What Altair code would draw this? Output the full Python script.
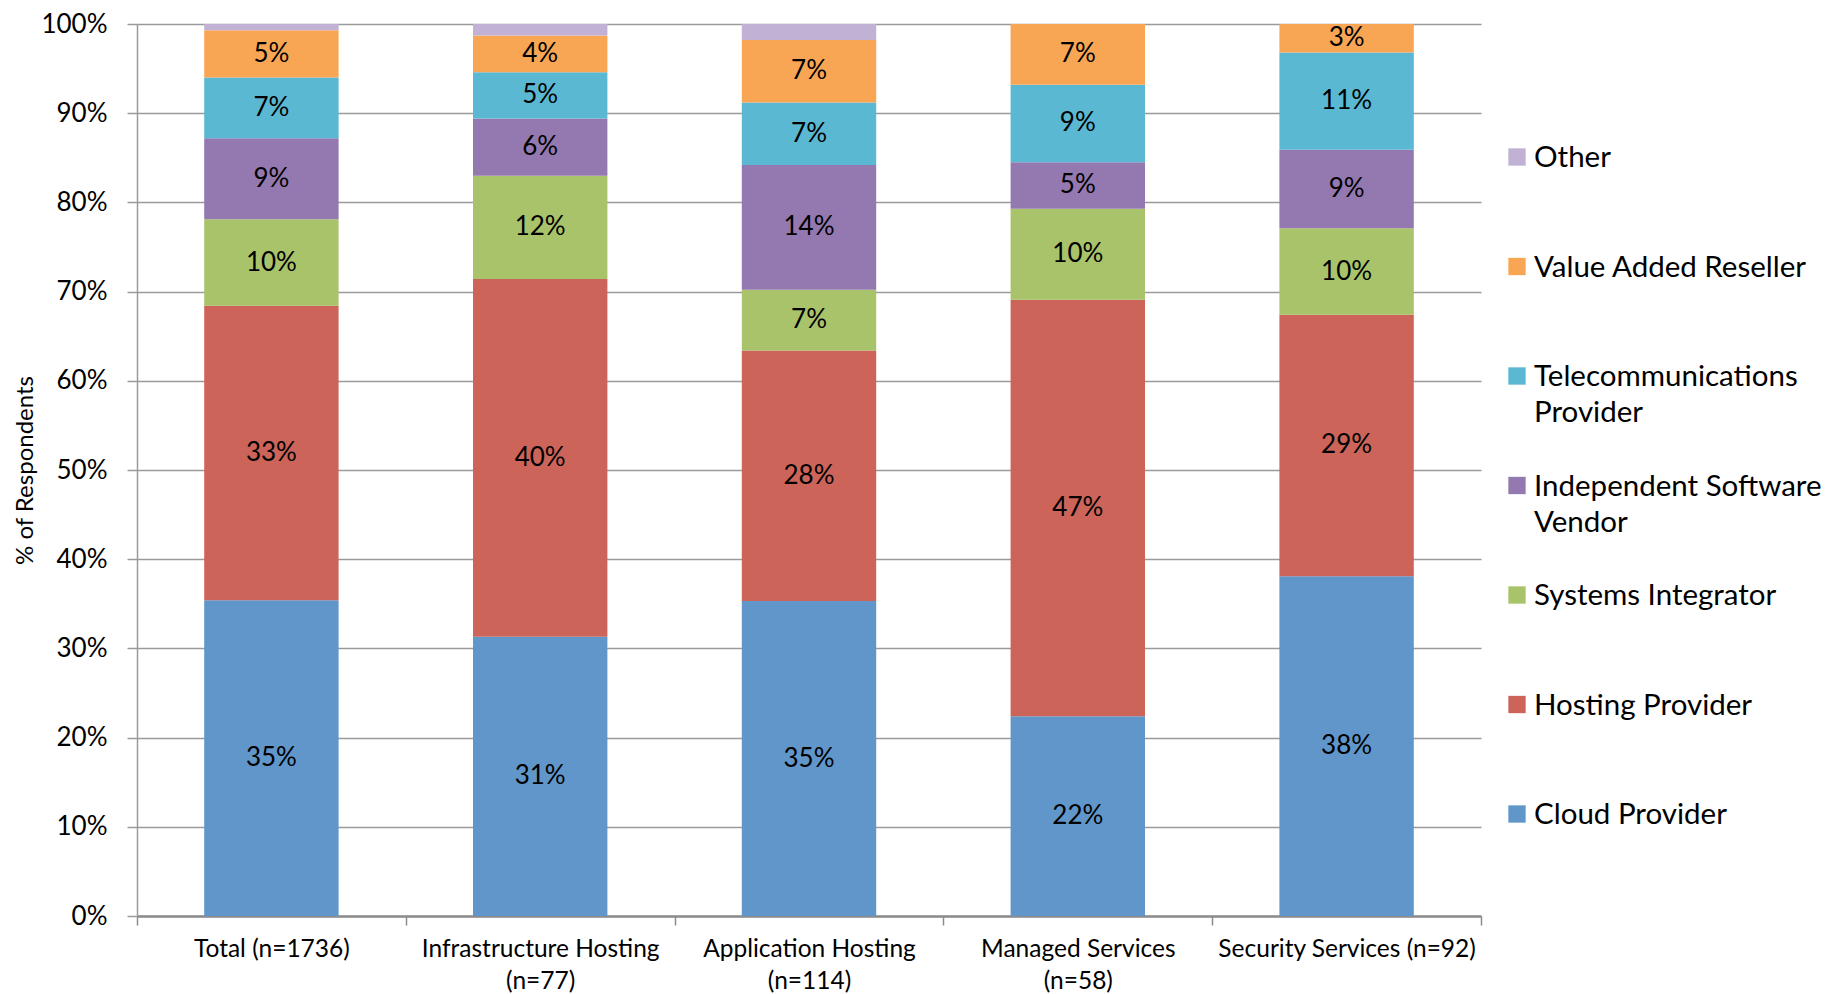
import altair as alt
import pandas as pd

categories = [
    "Total (n=1736)",
    "Infrastructure Hosting\n(n=77)",
    "Application Hosting\n(n=114)",
    "Managed Services\n(n=58)",
    "Security Services (n=92)",
]
# bottom -> top stacking order
series = [
    "Cloud Provider",
    "Hosting Provider",
    "Systems Integrator",
    "Independent Software Vendor",
    "Telecommunications Provider",
    "Value Added Reseller",
    "Other",
]
legend_labels = [
    "Cloud Provider",
    "Hosting Provider",
    "Systems Integrator",
    "Independent Software\nVendor",
    "Telecommunications\nProvider",
    "Value Added Reseller",
    "Other",
]
colors = ["#6096CA", "#CC6459", "#A9C36A", "#9479B0", "#5AB8D2", "#F9A654", "#C0B1D5"]

cloud    = [35.4, 31.3, 35.3, 22.4, 38.1]
hosting  = [33.0, 40.1, 28.1, 46.7, 29.3]
sysint   = [9.7, 11.6, 6.8, 10.2, 9.7]
isv      = [9.1, 6.4, 14.0, 5.2, 8.8]
telecom  = [6.8, 5.2, 7.0, 8.7, 10.9]
var_res  = [5.3, 4.1, 7.0, 6.8, 3.2]
other    = [0.7, 1.3, 1.8, 0.0, 0.0]

values = [cloud, hosting, sysint, isv, telecom, var_res, other]

rows = []
for si, (s, vals) in enumerate(zip(series, values)):
    for c, v in zip(categories, vals):
        rows.append({"category": c, "series": s, "order": si, "value": v})
df = pd.DataFrame(rows)

leg_df = pd.DataFrame({"series": series, "label": legend_labels, "order": list(range(len(series)))})

FONT = "Lato"
color_scale = alt.Scale(domain=series, range=colors)

base = alt.Chart(df).transform_stack(
    stack="value", groupby=["category"], sort=[alt.SortField("order")], as_=["v0", "v1"]
).transform_calculate(mid="(datum.v0 + datum.v1) / 2")

x_enc = alt.X(
    "category:N",
    sort=categories,
    title=None,
    scale=alt.Scale(paddingInner=0, paddingOuter=0),
    axis=alt.Axis(
        labelExpr="split(datum.label, '\\n')",
        labelFontSize=24.5,
        labelFont=FONT,
        labelColor="black",
        labelAngle=0,
        labelPadding=12,
        labelLineHeight=32,
        labelLimit=1000,
        tickBand="extent",
        tickSize=9,
        tickColor="#8C8C8C",
        tickWidth=1.5,
        domainColor="#8C8C8C",
        domainWidth=2.5,
        grid=False,
    ),
)

y_axis = alt.Axis(
    values=list(range(0, 101, 10)),
    labelExpr="datum.value + '%'",
    labelFontSize=26,
    labelFont=FONT,
    labelColor="black",
    labelPadding=20,
    tickSize=10,
    tickColor="#9A9A9A",
    tickWidth=1.5,
    domainColor="#9A9A9A",
    domainWidth=1.5,
    gridColor="#9A9A9A",
    gridWidth=1.5,
    titleFont=FONT,
    titleFontSize=24,
    titleFontWeight="normal",
    titleColor="black",
    titlePadding=3,
)

bars = base.mark_bar(width=alt.RelativeBandSize(0.5)).encode(
    x=x_enc,
    y=alt.Y("v0:Q", scale=alt.Scale(domain=[0, 100], nice=False), title="% of Respondents", axis=y_axis),
    y2="v1:Q",
    color=alt.Color("series:N", scale=color_scale, legend=None),
)

labels = base.transform_filter(
    "datum.series != 'Other' && datum.value > 0"
).transform_calculate(
    txt="format(datum.value, '.0f') + '%'"
).mark_text(font=FONT, fontSize=26, color="black", baseline="middle").encode(
    x=alt.X("category:N", sort=categories),
    y=alt.Y("mid:Q", scale=alt.Scale(domain=[0, 100], nice=False), title="% of Respondents", axis=y_axis),
    text="txt:N",
)

leg_base = alt.Chart(leg_df)
leg_y = alt.Y(
    "series:N",
    sort=list(reversed(series)),
    scale=alt.Scale(type="point", range=[133, 790], padding=0),
    axis=None,
)
leg_pts = leg_base.mark_square(size=300, opacity=1).encode(
    x=alt.value(1380),
    y=leg_y,
    color=alt.Color("series:N", scale=color_scale, legend=None),
)
leg_txt = leg_base.mark_text(
    font=FONT, fontSize=29.5, align="left", baseline="alphabetic", dy=10,
    lineBreak="\n", lineHeight=36, color="black",
).encode(
    x=alt.value(1397),
    y=leg_y,
    text="label:N",
)

main = alt.layer(bars, labels)
legend = alt.layer(leg_pts, leg_txt)

chart = alt.layer(main, legend).resolve_scale(y="independent").properties(
    width=1344, height=892, padding={"left": 5, "right": 5, "top": 3, "bottom": 0},
    background="white",
).configure_view(stroke=None)

chart.save("out.html", embed_options={"renderer": "svg", "actions": False})
